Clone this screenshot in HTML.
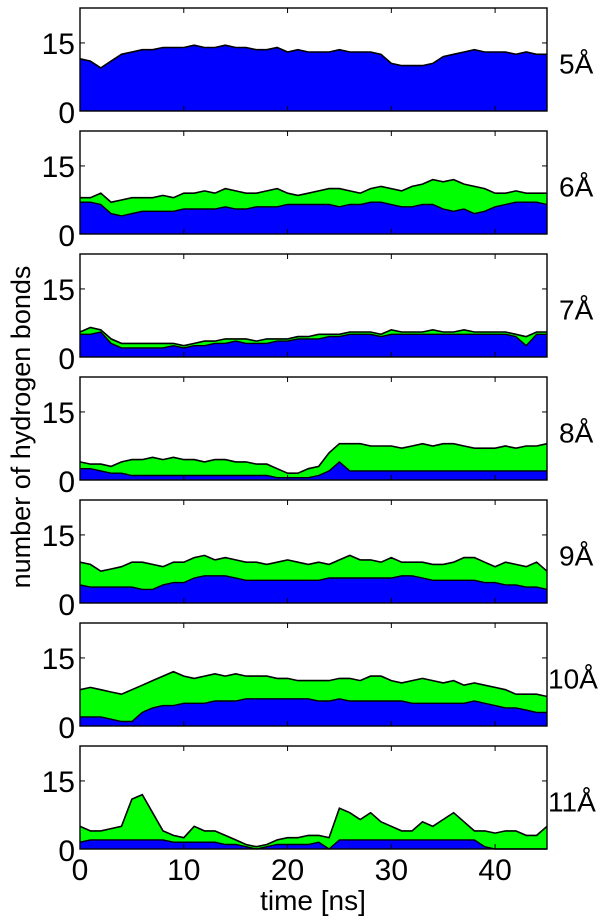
<!DOCTYPE html>
<html><head><meta charset="utf-8"><style>
html,body{margin:0;padding:0;background:#fff;}
svg{display:block;font-family:"Liberation Sans",sans-serif;}
</style></head><body>
<svg id="chart" width="609" height="920" viewBox="0 0 609 920" xmlns="http://www.w3.org/2000/svg">
<text x="0" y="0" transform="translate(30,427) rotate(-90)" text-anchor="middle" font-size="27">number of hydrogen bonds</text>
<text x="313" y="910" text-anchor="middle" font-size="28">time [ns]</text>
</svg>
<script>
const panelLabels = ["5Å","6Å","7Å","8Å","9Å","10Å","11Å"];
const xTicks = [0,10,20,30,40];
const yTicks = [0,15];
const times = [0,1,2,3,4,5,6,7,8,9,10,11,12,13,14,15,16,17,18,19,20,21,22,23,24,25,26,27,28,29,30,31,32,33,34,35,36,37,38,39,40,41,42,43,44,45];
const total5 = [11.5,11,9.5,11,12.5,13,13.5,13.5,14,14,14,14.5,14,14,14.5,14,14,13.5,13.5,14,13,13.5,13,13,13,13.5,13,13,13,12.5,10.5,10,10,10,10.5,12,12.5,13,13.5,13,13,13,12.5,13,12.5,12.5];
const blue5 = [11.5,11,9.5,11,12.5,13,13.5,13.5,14,14,14,14.5,14,14,14.5,14,14,13.5,13.5,14,13,13.5,13,13,13,13.5,13,13,13,12.5,10.5,10,10,10,10.5,12,12.5,13,13.5,13,13,13,12.5,13,12.5,12.5];
const total6 = [8,8,9,7,7.5,8,8,8,8.5,8,9,9,9.5,9,10,9.5,9,9,9.5,10,9,8.5,9,9.5,10,10,9.5,9,10,10.5,10,9.5,10.5,11,12,11.5,12,11,10.5,10,9,9,9.5,9,9,9];
const blue6 = [7,7,6.5,4.5,4,4.5,5,5,5,5,5.5,5.5,5.5,5.5,6,5.5,5.5,6,6,6,6.5,6.5,6.5,6.5,6.5,6,6.5,6.5,7,7,6.5,6,6,6.5,6.5,5.5,5,5.5,4.5,5,6,6.5,7,7,7,6.5];
const total7 = [5.5,6.5,6,4,3,3,3,3,3,3,2.5,3,3.5,3.5,4,4,4,3.5,4,4,4,4.5,4.5,5,5,5,5.5,5.5,5.5,5,6,5.5,5.5,5.5,6,5.5,5.5,6,5.5,5.5,5.5,5.5,5,4.5,5.5,5.5];
const blue7 = [5,5,5.5,3,2,2,2,2,2,2.5,2,2.5,2.5,3,3,3.5,3,3,3,3.5,3.5,4,4,4,4.5,4.5,5,5,5,4.5,5,5,5,5,5,5,5,5,5,5,5,5,4.5,2.5,5,5];
const total8 = [4,3.5,3.5,3,4,4.5,4.5,5,4.5,5,4.5,4.5,4,4.5,4.5,4,4,3.5,3.5,2.5,1.5,1.5,2.5,3,6,8,8,8,7.5,7.5,7.5,7,7.5,8,7.5,8,8,7.5,7,7,7,7.5,7,7.5,7.5,8];
const blue8 = [2.5,2.5,2,1.5,1.5,1,1,1,1,1,1,1,1,1,1,1,1,1,1,0.5,0.5,0.5,0.5,1,2,4,2,2,2,2,2,2,2,2,2,2,2,2,2,2,2,2,2,2,2,2];
const total9 = [9,8.5,7,7.5,8,9,9,8.5,8,9,9,10,10.5,9.5,10,9.5,9,9,8.5,9,9.5,9,8.5,9,8.5,9.5,10.5,9.5,9.5,9,10,9,9,9,8.5,8.5,9,10,10,9,8,9,8.5,8,9,7];
const blue9 = [4,3.5,3.5,3.5,3.5,3.5,3,3,4,4.5,4.5,5.5,6,6,6,5.5,5,5,5,5,5,5,5,5,5.5,5.5,5.5,5.5,5.5,5.5,5.5,6,6,5.5,5,5,5,5,5,4.5,4.5,4,4,3.5,3.5,3];
const total10 = [8,8.5,8,7.5,7,8,9,10,11,12,11,10.5,11,11.5,11,11.5,11,11,11,10.5,10.5,10,10,10,10,10.5,10.5,10,11,11,10,9.5,10,10.5,10,9.5,10,9,9.5,9,8.5,8,7,7,7,6.5];
const blue10 = [2,2,2,1.5,1,1,3,4,4.5,4.5,5,5,5,5.5,5.5,5.5,6,6,6,6,6,6,6,5.5,5.5,6,5.5,5.5,5.5,5.5,5.5,5.5,5,5,5,5,5,5,5.5,5,4.5,4,4,3.5,3,3];
const total11 = [5,4,4,4.5,5,11,12,8,4,3,2.5,5,4,4,3,2,1,0.5,1,2,2.5,2.5,3,3,2.5,9,8,6.5,8,6,5,4,4,6,5,6.5,8,6,4,4,3.5,4,4,3,3,5];
const blue11 = [1.5,2,2,2,2,2,2,2,2,1.5,1.5,1.5,1.5,1.5,1,1,0.5,0,0.5,1,1,1,1,1.5,0,2,2,2,2,2,2,2,2,2,2,2,2,2,2,0.5,0,0,0,0,0,0];

const totals = [total5,total6,total7,total8,total9,total10,total11];
const blues = [blue5,blue6,blue7,blue8,blue9,blue10,blue11];

const NS="http://www.w3.org/2000/svg";
const svg=document.getElementById('chart');
const L=80,R=547,H=103,TOP0=8,STEP=123,YMAX=22.7,XMAX=45;
function xs(t){return L+(t/XMAX)*(R-L);}
function mk(tag,attrs,parent){const e=document.createElementNS(NS,tag);for(const k in attrs)e.setAttribute(k,attrs[k]);(parent||svg).appendChild(e);return e;}
function pts(arr,ys){return arr.map((v,i)=>xs(times[i]).toFixed(1)+','+ys(v).toFixed(1));}

panelLabels.forEach((lab,p)=>{
  const top=TOP0+p*STEP,bot=top+H;
  const ys=v=>bot-(v/YMAX)*H;
  const g=mk('g',{});
  
  
  const tot=totals[p],bl=blues[p];
  const tp=pts(tot,ys),bp=pts(bl,ys);
  const green=mk('polygon',{points:tp.concat(bp.slice().reverse()).join(' '),fill:'#00ff00',stroke:'none'},g);
  
  
  const blue=mk('polygon',{points:bp.join(' ')+' '+xs(times[times.length-1])+','+bot+' '+xs(times[0])+','+bot,fill:'#0000ff',stroke:'none'},g);
  
  
  const l1=mk('polyline',{points:tp.join(' '),fill:'none',stroke:'#000','stroke-width':1.6},g);
  
  
  if(p>0){const l2=mk('polyline',{points:bp.join(' '),fill:'none',stroke:'#000','stroke-width':1.4},g);
  
  }
  const fr=mk('rect',{x:L,y:top,width:R-L,height:H,fill:'none',stroke:'#000','stroke-width':1.4},g);
  
  
  xTicks.forEach(t=>{
    const x=xs(t);
    const a=mk('line',{x1:x,y1:bot,x2:x,y2:bot-5,stroke:'#000'},g);
    
    
    const b=mk('line',{x1:x,y1:top,x2:x,y2:top+5,stroke:'#000'},g);
    
    
    if(p===6){const tx=mk('text',{x:x,y:bot+31,'text-anchor':'middle','font-size':30},g);tx.textContent=t;
      
      }
  });
  yTicks.forEach(v=>{
    const y=ys(v);
    const a=mk('line',{x1:L,y1:y,x2:L+5,y2:y,stroke:'#000'},g);
    
    
    const b=mk('line',{x1:R,y1:y,x2:R-5,y2:y,stroke:'#000'},g);
    
    
    const tx=mk('text',{x:L-5,y:y+(v===0?12:11),'text-anchor':'end','font-size':30},g);tx.textContent=v;
    
    
  });
  const pl=mk('text',{x:lab.length>2?548:559,y:top+H/2+14,'font-size':28},g);pl.textContent=lab;
  
  
});
</script>
</body></html>
